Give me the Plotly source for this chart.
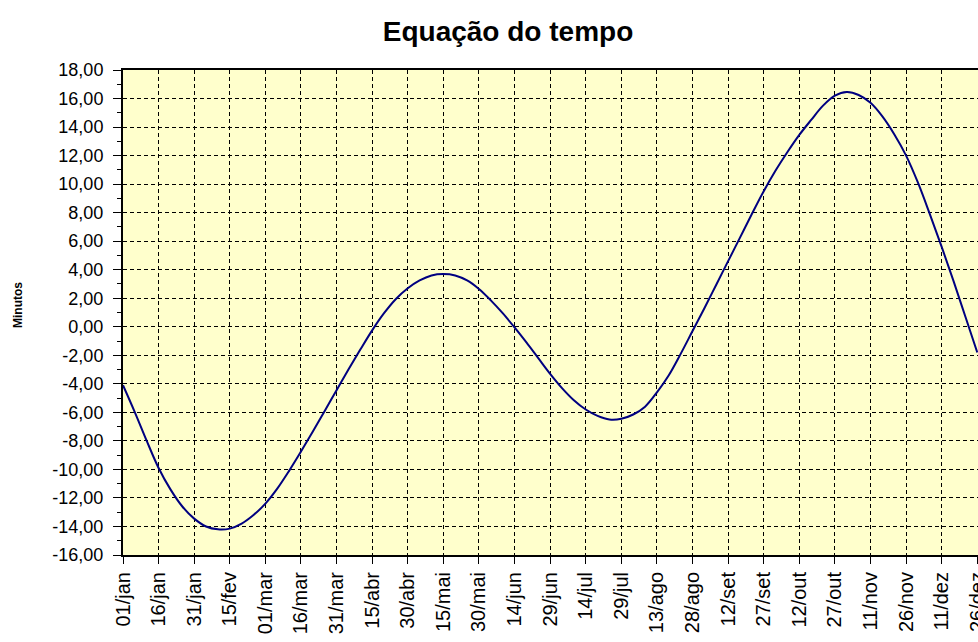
import plotly.graph_objects as go

# Equation of time (minutes) through a leap year, sampled every 5 days; day 0 = 01/jan
days = list(range(0, 361, 5))
minutes = [
    -4.1, -6.0, -8.0, -9.9, -11.4, -12.6, -13.45, -14.0, -14.2, -14.15,     # 0-45
    -13.8, -13.2, -12.4, -11.35, -10.1, -8.75, -7.35, -5.9, -4.45, -3.0,    # 50-95
    -1.6, -0.25, 0.95, 1.95, 2.7, 3.25, 3.6, 3.7, 3.6, 3.25,                # 100-145
    2.65, 1.85, 0.95, -0.05, -1.1, -2.2, -3.3, -4.3, -5.15, -5.8,           # 150-195
    -6.25, -6.5, -6.45, -6.15, -5.6, -4.6, -3.4, -1.9, -0.3, 1.3,           # 200-245
    2.95, 4.6, 6.25, 7.9, 9.5, 10.95, 12.25, 13.45, 14.5, 15.5,             # 250-295
    16.2, 16.45, 16.25, 15.7, 14.75, 13.5, 12.0, 10.1, 7.9, 5.6,            # 300-345
    3.2, 0.7, -1.8,                                                         # 350-360
]

tick_days = list(range(0, 361, 15))
tick_labels = ["01/jan", "16/jan", "31/jan", "15/fev", "01/mar", "16/mar",
               "31/mar", "15/abr", "30/abr", "15/mai", "30/mai", "14/jun",
               "29/jun", "14/jul", "29/jul", "13/ago", "28/ago", "12/set",
               "27/set", "12/out", "27/out", "11/nov", "26/nov", "11/dez",
               "26/dez"]
y_ticks = list(range(-16, 19, 2))
y_labels = [f"{v:.2f}".replace(".", ",") for v in y_ticks]
y_minor = list(range(-15, 18, 2))

FONT = "Liberation Sans, Arial, sans-serif"

fig = go.Figure()
fig.add_trace(go.Scatter(
    x=days, y=minutes, mode="lines",
    line=dict(color="#000080", width=2, shape="spline", smoothing=1.0),
    hoverinfo="skip", showlegend=False,
))

grid = dict(showgrid=True, gridcolor="#000000", gridwidth=1, griddash="4px,3px",
            zeroline=False, automargin=False, fixedrange=True)

fig.update_layout(
    template="none",
    width=978, height=642,
    margin=dict(l=123, r=0, t=70, b=87, pad=0),
    paper_bgcolor="#FFFFFF",
    plot_bgcolor="#FFFFCC",
    font=dict(family=FONT, color="#000000"),
    title=dict(text="Equação do tempo", x=508 / 978, xref="container",
               xanchor="center", y=1 - 31 / 642, yref="container",
               yanchor="middle",
               font=dict(family=FONT, size=28, weight="bold", color="#000000")),
    xaxis=dict(range=[0, 360.3], tickmode="array", tickvals=tick_days,
               ticktext=tick_labels, tickangle=-90, ticks="outside",
               ticklen=7, tickwidth=1, tickcolor="#000000",
               ticklabeloverflow="allow",
               tickfont=dict(family=FONT, size=20, color="#000000"),
               showline=True, linewidth=2, linecolor="#000000", mirror=True,
               **grid),
    yaxis=dict(range=[-16, 18], tickmode="array", tickvals=y_ticks,
               ticktext=y_labels, ticks="outside", ticklen=8, tickwidth=1,
               tickcolor="#000000", ticklabelstandoff=6,
               tickfont=dict(family=FONT, size=18, color="#000000"),
               minor=dict(tickmode="array", tickvals=y_minor, ticks="outside",
                          ticklen=4, tickwidth=1, tickcolor="#000000",
                          showgrid=False),
               showline=True, linewidth=2, linecolor="#000000", mirror=False,
               **grid),
    annotations=[dict(text="Minutos", textangle=-90, xref="paper", yref="paper",
                      x=(18 - 123) / 855, y=(555 - 305) / 485,
                      xanchor="center", yanchor="middle", showarrow=False,
                      font=dict(family=FONT, size=12, weight="bold",
                                color="#000000"))],
)

fig.write_html("out.html")
